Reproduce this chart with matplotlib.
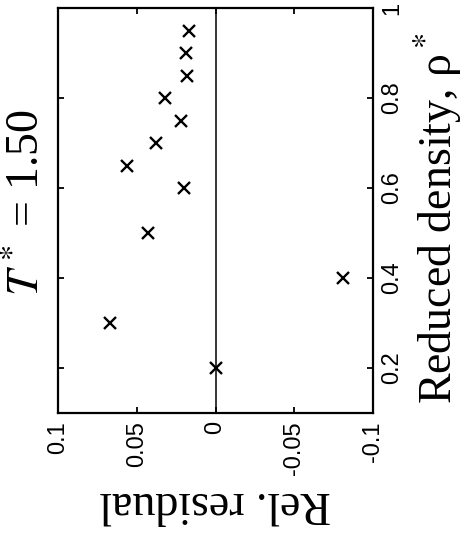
import numpy as np
import matplotlib
matplotlib.use("Agg")
import matplotlib.pyplot as plt

plt.rcParams['mathtext.fontset'] = 'stix'

density = [0.2, 0.3, 0.4, 0.5, 0.6, 0.65, 0.7, 0.75, 0.8, 0.85, 0.9, 0.95]
residual = [0.0, 0.067, -0.081, 0.043, 0.020, 0.056, 0.038, 0.022, 0.032, 0.018, 0.019, 0.017]

res_ticks = [0.1, 0.05, 0, -0.05, -0.1]
res_labels = ['0.1', '0.05', '0', '-0.05', '-0.1']
dens_ticks = [0.2, 0.4, 0.6, 0.8, 1.0]
dens_labels = ['0.2', '0.4', '0.6', '0.8', '1']

fig = plt.figure(figsize=(4.65, 5.35), dpi=100)
ax = fig.add_axes([58/465, 1-413/535, 315/465, 405/535])

# whole chart is turned 90 deg: residual runs along x (reversed), density along y
ax.axvline(0, color='k', lw=1.1, zorder=1)
ax.plot(residual, density, 'x', color='k', ms=9, mew=1.7, zorder=3)

ax.set_xlim(0.1, -0.1)
ax.set_ylim(0.1, 1.0)

ax.set_xticks(res_ticks)
ax.set_xticklabels(res_labels, rotation=90, family='Liberation Sans', fontsize=17)
ax.set_yticks(dens_ticks)
ax.set_yticklabels(dens_labels, rotation=90, va='center', family='Liberation Sans', fontsize=17)

ax.tick_params(axis='both', direction='in', length=4, width=1.3, top=True, right=True, pad=6)
ax.tick_params(axis='y', left=True, labelleft=False, labelright=True)

for s in ax.spines.values():
    s.set_linewidth(1.6)

ax.set_xlabel('Rel. residual', family='Liberation Serif', fontsize=33, rotation=180,
              va='center', ha='center')
ax.xaxis.set_label_coords(0.5, -0.222)

ax.yaxis.set_label_position('right')
ax.set_ylabel('Reduced density, ρ$^*$', family='Liberation Serif', fontsize=33, rotation=90,
              va='center', ha='center')
ax.yaxis.set_label_coords(1.206, 0.481)

ax.text(-0.098, 0.52, '$T^*$ = 1.50', transform=ax.transAxes, rotation=90,
        family='Liberation Serif', fontsize=33, va='center', ha='center')

fig.savefig('out.png', dpi=100)
